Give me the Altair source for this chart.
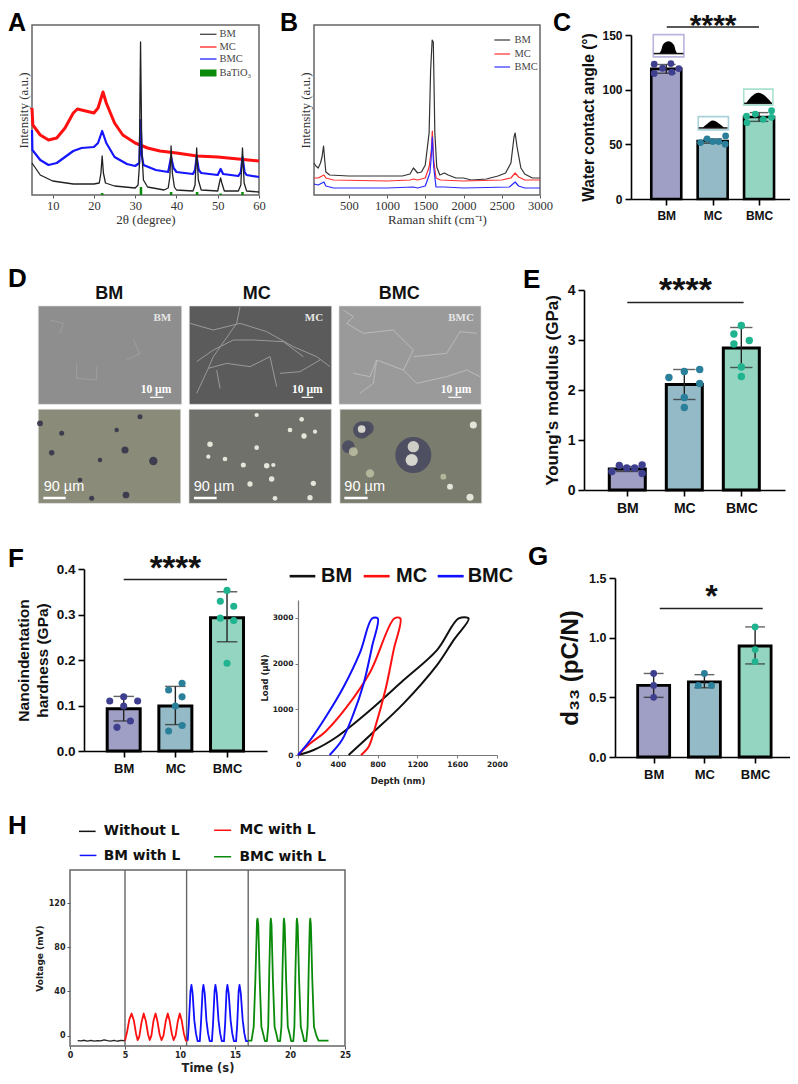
import altair as alt
import pandas as pd

SANS = "Liberation Sans"
SERIF = "Liberation Serif"
WIDE = "DejaVu Sans"
CATS = ["BM", "MC", "BMC"]
BAR_FILL = ["#9f9ec4", "#95bac7", "#93d5c0"]
DOT_FILL = ["#3f3f90", "#2a7f9a", "#1fb48f"]
CANVAS_W, CANVAS_H = 782, 1066

# ---------- panel A (XRD) ----------
A_BM_X = [5,7,10,15,20,21.3,21.7,22,22.3,22.8,25,30,30.7,31,31.3,31.6,32,33,37,38,38.4,38.7,39,39.5,40,44,44.5,44.9,45.3,46,50,50.4,50.7,51,51.6,55,55.6,56,56.4,57,60]
A_BM_Y = [32,20,14,11,11,12,22,39,22,12,9,7,10,28,153,45,15,8,5,7,18,49,22,8,5,4,10,47,15,5,4,12,17,12,4,4,10,47,12,4,3]
A_BMC_X = [5,5.1,7,9,11,13,15,17,20,21,22,23,25,28,30,31,31.3,31.6,32,35,38,38.7,39.3,40,44,44.5,44.9,45.4,46,50,50.7,51.3,55,55.6,56,56.5,57,60]
A_BMC_Y = [65,45,35,30,32,38,44,47,48,52,64,52,38,31,29,32,75,40,30,25,23,38,27,23,21,25,38,25,22,20,26,21,19,23,38,23,20,18]
A_MC_X = [5,5.2,7,9,11,13,15,16,18,20,21,22.2,23,25,27,30,33,36,40,45,50,55,60]
A_MC_Y = [87,70,60,55,57,67,82,86,84,82,87,103,92,72,60,52,47,44,42,39,38,36,34]
A_TIO_X = [22,31.4,38.7,45,50.7,56]
A_TIO_H = [2,8,3,3,1.5,3]

# ---------- panel B (Raman) ----------
B_BM_X = [45,70,100,130,150,170,185,200,250,500,1000,1200,1300,1345,1400,1450,1500,1550,1570,1590,1605,1625,1650,1690,1750,1800,1900,2000,2100,2300,2450,2550,2620,2660,2675,2700,2750,2800,2900,3000]
B_BM_Y = [32,29,27,32,38,49,35,23,20,19,19,19,21,27,22,23,30,62,125,155,153,62,28,20,22,20,17,17,15,16,19,22,32,58,62,48,27,21,17,17]
B_MC_X = [45,100,150,175,200,300,1000,1300,1345,1400,1500,1550,1580,1592,1610,1640,1700,2000,2500,2620,2675,2720,2800,3000]
B_MC_Y = [17,17,19,20,17,15,14,15,16,15,17,28,45,64,35,17,15,14,15,17,22,18,15,15]
B_BMC_X = [45,100,175,200,300,1000,1345,1400,1500,1560,1575,1592,1610,1640,1750,2000,2600,2675,2720,2800,3000]
B_BMC_Y = [11,10,13,9,7,7,8,7,9,22,35,58,28,8,8,7,8,13,9,7,7]

# ---------- bar panels ----------
C_MEAN = [119, 53, 75]
C_LO = [115, 51, 71]
C_HI = [123, 55, 79]
C_DX = [[-.26,-.26,-.08,.10,.12,.27],[-.26,-.12,0,.13,.28,.27],[-.27,-.26,-.08,.09,.27,.27]]
C_DY = [[123.3,114.8,119.6,123.9,116,119.3],[51.6,55,52.5,52.5,57.7,50.1],[75.9,69.8,77.7,72.9,80.8,74.7]]
E_MEAN = [.42, 2.11, 2.84]
E_LO = [.37, 1.81, 2.45]
E_HI = [.47, 2.41, 3.25]
E_DX = [[-.27,-.14,-.01,.13,.26,.26],[-.27,0,.27,.27,0,0],[-.13,0,-.13,.14,0,0]]
E_DY = [[.37,.49,.44,.44,.5,.33],[2.25,2.37,2.41,2.13,1.85,1.65],[3.12,3.29,2.92,2.99,2.46,2.27]]
F_MEAN = [.093, .099, .293]
F_LO = [.066, .058, .24]
F_HI = [.12, .142, .35]
F_DX = [[-.27,0,.27,0,.13,-.13],[-.13,.13,.13,0,.13,-.13],[-.13,0,.13,-.13,.13,0]]
F_DY = [[.11,.119,.11,.099,.066,.052],[.134,.149,.119,.099,.056,.044],[.329,.353,.318,.292,.287,.193]]
G_MEAN = [.6, .63, .93]
G_LO = [.5, .58, .78]
G_HI = [.7, .69, 1.09]
G_DX = [[0,0,0],[0,-.12,.14],[0,0,0]]
G_DY = [[.7,.6,.5],[.7,.6,.6],[1.09,.9,.8]]

# C insets (droplets)
DROP_X = [[-.15,-.11,-.07,.05,.17,.20,.24],[.78,.88,1.0,1.15,1.25],[1.72,1.83,1.99,2.15,2.28]]
DROP_Y = [[133,136,141.2,144.2,140.6,136,133],[65,68.6,71.7,68.6,65],[87.5,93.5,97.2,93.5,87.5]]
BOX_X = [-.28,.38,.69,1.34,1.67,2.30]
BOX_Y = [130,150.3,63.2,75.3,85.9,100.5]
BOX_C = ["#b9b5dd","#a9d1d9","#a9e1d1"]
BASE_X = [-.27,.37,.70,1.32,1.68,2.28]

# ---------- panel F right (load-depth) ----------
L_BM_X = [0,157,392,727,1062,1397,1615,1715,1564,1397,1062,727,509]
L_BM_Y = [0,109,400,983,1639,2294,2986,2986,2513,1966,1129,437,0]
L_MC_X = [0,124,275,492,727,968,1028,961,878,777,710,633]
L_MC_Y = [0,255,510,1056,1821,2986,2986,2294,1420,619,182,0]
L_BMC_X = [0,124,291,459,626,744,801,744,660,559,442,318]
L_BMC_Y = [0,328,874,1493,2258,2986,2986,2367,1566,910,328,0]

# ---------- panel H ----------
H_K_T = [.7,1,1.3,1.6,1.9,2.2,2.5,2.8,3.1,3.4,3.7,4,4.3,4.6,5]
H_K_V = [-4.5,-4.8,-4.2,-5,-4.3,-5,-4.6,-4.8,-3.8,-4.5,-4.9,-4.2,-5.1,-4.3,-4.5]
H_R_T = [5,5.2,5.4,5.6,5.8,6,6.15,6.3,6.5,6.7,6.9,7.1,7.25,7.4,7.6,7.78,7.95,8.15,8.32,8.5,8.7,8.89,9.05,9.25,9.42,9.6,9.8,9.98,10.15,10.35,10.53,10.7]
H_R_V = [-4.5,4,15,20,14,2,-4,-1,12,20,13,1,-4,0,14,20,13,1,-4,0,13,20,14,2,-4,0,13,20,14,2,-4.5,-4.5]
H_B_T = [10.7,10.8,10.95,11.04,11.15,11.3,11.45,11.6,11.8,11.9,12.05,12.13,12.25,12.4,12.55,12.7,12.9,13,13.14,13.22,13.34,13.5,13.65,13.8,14,14.1,14.23,14.31,14.43,14.6,14.75,14.9,15.1,15.2,15.33,15.41,15.53,15.7,15.85,16,16.2]
H_B_V = [-4.5,10,40,46,38,14,2,-5,-5,10,40,46,38,14,2,-5,-5,10,40,46,38,14,2,-5,-5,10,40,46,38,14,2,-5,-5,10,40,46,38,14,2,-5,-5]
H_G_T = [16.2,16.5,16.7,16.85,17,17.05,17.12,17.25,17.4,17.6,17.72,17.9,18.02,18.12,18.22,18.26,18.32,18.45,18.6,18.8,18.9,19.1,19.22,19.32,19.42,19.45,19.52,19.65,19.8,20,20.1,20.3,20.4,20.5,20.6,20.63,20.7,20.83,20.98,21.18,21.28,21.48,21.6,21.7,21.8,21.84,21.9,22.03,22.18,22.4,22.6,23.5]
H_G_V = [-4.5,-4.5,8,50,104,106,100,50,8,0,-5,-5,8,60,102,106,100,50,8,0,-5,-5,8,60,102,106,100,50,8,0,-5,-5,8,60,102,106,100,50,8,0,-5,-5,8,60,102,106,100,50,8,0,-4.5,-4.5]
H_SPLIT = [5,10.6,16.2]

# ---------- panel D (micrographs, traced in a 1500x780 picture frame) ----------
D_X = [115,545,568,995,1017,1443,115,542,567,994,1020,1445]
D_Y = [138,433,138,433,138,433,448,730,448,730,448,730]
D_FILL = ["#8e8e8e","#5b5b5b","#9a9a9a","#8a8b78","#70716b","#7a7c6d"]
D_WRINKLES = [
 [(720,140),(710,190),(640,290),(625,325),(590,400)],
 [(625,325),(680,310),(750,320),(810,290),(830,380)],
 [(590,305),(640,270),(700,240),(760,240),(850,245),(910,290)],
 [(720,190),(800,215),(880,260),(950,290),(990,320)],
 [(840,340),(900,335),(960,300)],
 [(570,190),(640,210),(720,190)],
 [(650,330),(660,385)],
 [(1040,190),(1090,220),(1180,210),(1240,270),(1210,330),(1130,300),(1110,350),(1060,340)],
 [(1240,290),(1340,280),(1380,215),(1430,220)],
 [(1210,330),(1250,370),(1340,350),(1400,330),(1440,350)],
 [(1130,300),(1120,370),(1080,400)],
 [(1030,150),(1060,170),(1040,190)],
 [(230,310),(230,355),(290,360),(290,320)],
 [(400,240),(420,280),(380,300)],
 [(150,180),(190,190),(180,220)],
]
D_W_COL = ["#a0a0a0"]*7 + ["#bdbdbd"]*5 + ["#a0a0a0"]*3
D_BLOB_X = [1240,1085,1100,1045,460,375,155,185,350,378,275,120,420,240,300,
            630,770,905,912,945,770,800,730,815,820,675,625,940,930,825,870,750,
            1240,1235,1085,1420,1410,1350,1110,1060,1330]
D_BLOB_Y = [585,510,505,560,603,570,578,520,510,705,715,490,470,660,600,
            553,563,478,528,515,465,617,615,657,615,597,590,670,713,715,510,672,
            560,600,507,495,712,680,640,575,650]
D_BLOB_S = [1300,300,200,160,70,50,30,25,20,45,25,35,25,20,20,
            30,22,22,28,18,18,30,25,30,18,22,18,28,28,22,22,28,
            130,150,60,50,50,35,70,80,35]
D_BLOB_C = ["#4a4a60"]*4 + ["#34344a"]*11 + ["#f2f2e6"]*17 + ["#dcdcd2","#e4e4da","#e4e4da","#f0f0e6","#f0f0e6","#f0f0e6","#b9bca0","#b9bca0","#b9bca0"]
D_SMALL_X = [487,942,1383]
D_SCALE_X = [468,922,1368]
D_BAR_TOP = [(450,490),(905,940),(1345,1385)]
D_BIG_X = [192,642,1094]
D_BIG_BAR = [(130,197),(582,650),(1033,1103)]
D_TITLE_X = [328,770,1198]

one = pd.DataFrame({"v": [0]})
NO_AXIS = False


def ax():
    return {"axis": None} if NO_AXIS else {}


def sx(a, b, dom):
    return alt.Scale(domain=dom, range=[a - 8, b - 8], nice=False)


def sy(top, bot, dom):
    return alt.Scale(domain=dom, range=[bot - 8, top - 8], nice=False)


def txt(frame_x, frame_y, text, xs, ys, **mk):
    d = pd.DataFrame({"x": frame_x, "y": frame_y, "t": text})
    return alt.Chart(d).mark_text(**mk).encode(
        x=alt.X("x:Q", scale=xs, **ax()),
        y=alt.Y("y:Q", scale=ys, **ax()),
        text="t:N")


def line(x, y, color, xs, ys, width, interp="linear"):
    d = pd.DataFrame({"x": x, "y": y, "o": range(len(x))})
    return alt.Chart(d).mark_line(color=color, strokeWidth=width, strokeJoin="round", interpolate=interp).encode(
        x=alt.X("x:Q", scale=xs), y=alt.Y("y:Q", scale=ys), order="o:Q")


def hseg(x1, x2, y, color, xs, ys, width):
    d = pd.DataFrame({"x": [x1], "x2": [x2], "y": [y]})
    return alt.Chart(d).mark_rule(color=color, strokeWidth=width).encode(
        x=alt.X("x:Q", scale=xs, **ax()), x2="x2:Q", y=alt.Y("y:Q", scale=ys, **ax()))


def frame(dx, dy, xs, ys):
    d = pd.DataFrame({"x": [dx[0]], "x2": [dx[1]], "y": [dy[0]], "y2": [dy[1]]})
    return alt.Chart(d).mark_rect(fillOpacity=0, stroke="#666666", strokeWidth=1.5).encode(
        x=alt.X("x:Q", scale=xs), x2="x2:Q", y=alt.Y("y:Q", scale=ys), y2="y2:Q")


def letter(s, page_x, page_base, size=26):
    return alt.Chart(one).mark_text(
        text=s, font=SANS, fontWeight="bold", fontSize=size, align="left",
        baseline="alphabetic", color="black").encode(x=alt.value(page_x - 8), y=alt.value(page_base - 8))


def serif_axis(title, orient, offset, values=None, labels=True, tpad=2, **extra):
    kw = dict(title=title, orient=orient, offset=offset, grid=False, domain=False, titleFont=SERIF, titleFontSize=13,
              titleFontWeight="normal", titleColor="#333", labelFont=SERIF, labelFontSize=12.5,
              labelColor="#333", tickColor="#555", tickSize=3, labelFlush=False, labelOverlap=False,
              titlePadding=tpad, labelPadding=1, format="d")
    kw.update(extra)
    if values is not None:
        kw["values"] = values
    if not labels:
        kw.update(labels=False, ticks=False)
    return alt.Axis(**kw)


# ----- A -----
def panel_a():
    x0, x1, yt, yb = 32, 259, 25, 195
    xs = sx(x0, x1, [5, 60])
    ys = sy(yt, yb, [0, 170])
    base = alt.Chart(pd.DataFrame({"x": [5, 60], "y": [0, 0]})).mark_point(opacity=0).encode(
        x=alt.X("x:Q", scale=xs, axis=serif_axis("2θ (degree)", "bottom", yb - 8 - CANVAS_H, [10,20,30,40,50,60])),
        y=alt.Y("y:Q", scale=ys, axis=serif_axis("Intensity (a.u.)", "left", -(x0 - 8), labels=False)))
    tio = alt.Chart(pd.DataFrame({"x": A_TIO_X, "h": A_TIO_H, "z": [0]*6})).mark_rule(
        color="#0a8a0a", strokeWidth=2.5).encode(
        x=alt.X("x:Q", scale=xs), y=alt.Y("z:Q", scale=ys), y2="h:Q")
    legend = [hseg(45.7, 49.7, 160.7, "#444", xs, ys, 1.3), hseg(45.7, 49.7, 148, "#ff2020", xs, ys, 1.3),
              hseg(45.7, 49.7, 136, "#2020ff", xs, ys, 1.3), hseg(45.7, 49.7, 122, "#0a8a0a", xs, ys, 7),
              txt([50.4]*4, [160.7,148,136,122], ["BM","MC","BMC","BaTiO₃"], xs, ys,
                  font=SERIF, fontSize=10.5, color="#444", align="left", baseline="middle")]
    return alt.layer(base, frame([5, 60], [0, 170], xs, ys), line(A_MC_X, A_MC_Y, "#ff1010", xs, ys, 3),
                     line(A_BMC_X, A_BMC_Y, "#1515ff", xs, ys, 2.2),
                     line(A_BM_X, A_BM_Y, "#222", xs, ys, 1.3), tio, *legend,
                     letter("A", 8, 31, 25))


# ----- B -----
def panel_b():
    x0, x1, yt, yb = 314, 540, 25, 195
    xs = sx(x0, x1, [45, 3000])
    ys = sy(yt, yb, [0, 170])
    base = alt.Chart(pd.DataFrame({"x": [45, 3000], "y": [0, 0]})).mark_point(opacity=0).encode(
        x=alt.X("x:Q", scale=xs, axis=serif_axis("Raman shift (cm⁻¹)", "bottom", yb - 8 - CANVAS_H,
                                                 [500,1000,1500,2000,2500,3000], titleX=429)),
        y=alt.Y("y:Q", scale=ys, axis=serif_axis("Intensity (a.u.)", "left", -(x0 - 8), labels=False)))
    legend = [hseg(2404, 2609, 155, "#444", xs, ys, 1.3), hseg(2404, 2609, 141, "#ff4040", xs, ys, 1.3),
              hseg(2404, 2609, 128, "#4040ff", xs, ys, 1.3),
              txt([2665]*3, [155,141,128], ["BM","MC","BMC"], xs, ys, font=SERIF, fontSize=10.5,
                  color="#444", align="left", baseline="middle")]
    return alt.layer(base, frame([45, 3000], [0, 170], xs, ys), line(B_BM_X, B_BM_Y, "#333", xs, ys, 1.2),
                     line(B_MC_X, B_MC_Y, "#ff3030", xs, ys, 1.2),
                     line(B_BMC_X, B_BMC_Y, "#2a2aff", xs, ys, 1.2), *legend,
                     letter("B", 280, 31, 25))


# ----- bar helper -----
def bar_panel(x0, x1, ytop, ybot, ymax, ticks, centers, mean, lo, hi, dx, dy, barw, ylabel,
              sig, star, fmt, extras=None, tsize=13, lab=15, dot=46, sw=2.6, stars="****", ssize=30,
              tpad=6, let=None, xsize=13, lh=19):
    step = (centers[2] - centers[0]) / 2
    xs = sx(x0, x1, [(x0 - centers[0]) / step, (x1 - centers[0]) / step])
    ys = sy(ytop, ybot, [0, ymax])
    d = pd.DataFrame({"i": [0, 1, 2], "m": mean, "lo": lo, "hi": hi, "f": BAR_FILL})
    xaxis = alt.Axis(title=None, orient="bottom", offset=ybot - 8 - CANVAS_H, values=[0, 1, 2],
                     labelExpr="['BM','MC','BMC'][datum.value]",
                     grid=False, domainColor="black", domainWidth=1.6, tickColor="black", tickWidth=1.6,
                     tickSize=6, labelFont=SANS, labelFontWeight="bold", labelFontSize=xsize,
                     labelColor="#111", labelPadding=5, labelOverlap=False, labelFlush=False)
    yaxis = alt.Axis(title=ylabel, orient="left", offset=-(x0 - 8), values=ticks, format=fmt, grid=False,
                     domainColor="black",
                     domainWidth=1.6, tickColor="black", tickWidth=1.6, tickSize=6, labelFont=SANS,
                     labelFontWeight="bold", labelFontSize=tsize, labelColor="#111", labelPadding=3,
                     titleFont=SANS, titleFontWeight="bold", titleFontSize=lab, titleColor="#111",
                     titlePadding=tpad, titleLineHeight=lh, labelOverlap=False, labelFlush=False)
    bars = alt.Chart(d).mark_bar(size=barw, stroke="black", strokeWidth=sw).encode(
        x=alt.X("i:Q", scale=xs, axis=xaxis), y=alt.Y("m:Q", scale=ys, axis=yaxis, stack=None),
        color=alt.Color("f:N", scale=None))
    ex = alt.X("i:Q", scale=xs)
    err = alt.Chart(d).mark_rule(color="#222", strokeWidth=1.4).encode(
        x=ex, y=alt.Y("lo:Q", scale=ys), y2="hi:Q")
    cap1 = alt.Chart(d).mark_tick(color="#222", thickness=1.4, size=barw * 0.62, orient="horizontal").encode(
        x=ex, y=alt.Y("lo:Q", scale=ys))
    cap2 = alt.Chart(d).mark_tick(color="#222", thickness=1.4, size=barw * 0.62, orient="horizontal").encode(
        x=ex, y=alt.Y("hi:Q", scale=ys))
    px, py, pc = [], [], []
    for i in range(3):
        for a, b in zip(dx[i], dy[i]):
            px.append(i + a); py.append(b); pc.append(DOT_FILL[i])
    dots = alt.Chart(pd.DataFrame({"x": px, "y": py, "c": pc})).mark_circle(size=dot, opacity=1).encode(
        x=alt.X("x:Q", scale=xs), y=alt.Y("y:Q", scale=ys),
        color=alt.Color("c:N", scale=None))
    sigl = hseg(sig[0], sig[1], sig[2], "#222", xs, ys, 1.6)
    st = txt([star[0]], [star[1]], [stars], xs, ys, font=SANS, fontWeight="bold", fontSize=ssize,
             align="center", baseline="alphabetic", dy=ssize * .43, color="#111")
    layers = [bars, err, cap1, cap2, dots, sigl, st]
    if extras:
        layers += extras(xs, ys)
    if let:
        layers.append(letter(*let))
    return alt.layer(*layers)


def c_extras(xs, ys):
    out = []
    bx = pd.DataFrame({"x": BOX_X[0::2], "x2": BOX_X[1::2], "y": BOX_Y[0::2], "y2": BOX_Y[1::2], "c": BOX_C})
    out.append(alt.Chart(bx).mark_rect(fill="white", strokeWidth=1.6).encode(
        x=alt.X("x:Q", scale=xs), x2="x2:Q", y=alt.Y("y:Q", scale=ys), y2="y2:Q",
        stroke=alt.Color("c:N", scale=None)))
    for i in range(3):
        d = pd.DataFrame({"x": DROP_X[i], "y": DROP_Y[i], "b": [DROP_Y[i][0]] * len(DROP_X[i])})
        out.append(alt.Chart(d).mark_area(color="black", interpolate="monotone").encode(
            x=alt.X("x:Q", scale=xs), y=alt.Y("y:Q", scale=ys, stack=None), y2="b:Q"))
        out.append(hseg(BASE_X[2*i], BASE_X[2*i+1], DROP_Y[i][0], "#111", xs, ys, 1.5))
    return out


def panel_d():
    global NO_AXIS
    NO_AXIS = True
    xs = sx(9, 500, [27, 1500])
    ys = sy(260, 520, [780, 0])
    rect = pd.DataFrame({"x": D_X[0::2], "x2": D_X[1::2], "y": D_Y[0::2], "y2": D_Y[1::2], "f": D_FILL})
    r = alt.Chart(rect).mark_rect(stroke="#dddddd", strokeWidth=0.6).encode(
        x=alt.X("x:Q", scale=xs, axis=None), x2="x2:Q", y=alt.Y("y:Q", scale=ys, axis=None), y2="y2:Q",
        color=alt.Color("f:N", scale=None))
    layers = [r]
    rows = []
    for i, poly in enumerate(D_WRINKLES):
        for j, (a, b) in enumerate(poly):
            rows.append({"x": a, "y": b, "id": i, "o": j, "c": D_W_COL[i]})
    layers.append(alt.Chart(pd.DataFrame(rows)).mark_line(strokeWidth=0.9).encode(
        x=alt.X("x:Q", scale=xs, axis=None), y=alt.Y("y:Q", scale=ys, axis=None),
        detail="id:N", order="o:Q", color=alt.Color("c:N", scale=None)))
    blobs = pd.DataFrame({"x": D_BLOB_X, "y": D_BLOB_Y, "s": D_BLOB_S, "c": D_BLOB_C, "o": range(len(D_BLOB_X))})
    layers.append(alt.Chart(blobs).mark_circle(opacity=.9).encode(
        x=alt.X("x:Q", scale=xs, axis=None), y=alt.Y("y:Q", scale=ys, axis=None),
        size=alt.Size("s:Q", scale=None), color=alt.Color("c:N", scale=None), order="o:Q"))
    for t in D_BAR_TOP:
        layers.append(hseg(t[0], t[1], 412, "white", xs, ys, 1.2))
    for t in D_BIG_BAR:
        layers.append(hseg(t[0], t[1], 714, "white", xs, ys, 2.5))
    layers.append(txt(D_SMALL_X, [175]*3, CATS, xs, ys, font=SERIF, fontWeight="bold", fontSize=11,
                      color="#e6e6e6", align="center", baseline="middle"))
    layers.append(txt(D_SCALE_X, [390]*3, ["10 µm"]*3, xs, ys, font=SERIF, fontWeight="bold", fontSize=11.5,
                      color="white", align="center", baseline="middle"))
    layers.append(txt(D_BIG_X, [680]*3, ["90 µm"]*3, xs, ys, font=SANS, fontSize=14.5,
                      color="white", align="center", baseline="middle"))
    layers.append(txt(D_TITLE_X, [102]*3, CATS, xs, ys, font=SANS, fontWeight="bold", fontSize=18,
                      color="#111", align="center", baseline="middle"))
    layers.append(letter("D", 8, 287))
    NO_AXIS = False
    return alt.layer(*layers)


def panel_f2():
    x0, x1, yt, yb = 298, 497, 600, 755
    xs = sx(x0, x1, [0, 2000])
    ys = sy(yt, yb, [0, 3390])
    common = dict(grid=False, domainColor="#777", domainWidth=1.2, tickColor="#777", tickSize=3,
                  labelFont=WIDE, labelFontWeight="bold", labelFontSize=7.5, labelColor="#222",
                  titleFont=WIDE, titleFontWeight="bold", titleColor="#222", titleFontSize=8.5,
                  labelOverlap=False, labelFlush=False, format="d")
    base = alt.Chart(pd.DataFrame({"x": [0], "y": [0]})).mark_point(opacity=0).encode(
        x=alt.X("x:Q", scale=xs, axis=alt.Axis(title="Depth (nm)", orient="bottom", offset=yb - 8 - CANVAS_H,
                                               values=[0,400,800,1200,1600,2000], titlePadding=9, **common)),
        y=alt.Y("y:Q", scale=ys, axis=alt.Axis(title="Load (µN)", orient="left", offset=-(x0 - 8),
                                               values=[0,1000,2000,3000], titlePadding=3, **common)))
    lg = [hseg(-84, 174, 3911, "#111", xs, ys, 2.6), hseg(660, 921, 3911, "#ff1010", xs, ys, 2.6),
          hseg(1404, 1665, 3911, "#1010ff", xs, ys, 2.6),
          txt([231, 985, 1705], [3911]*3, CATS, xs, ys, font=SANS, fontWeight="bold", fontSize=20,
              color="#111", align="left", baseline="middle")]
    cr = "catmull-rom"
    return alt.layer(base, line(L_BM_X, L_BM_Y, "#111", xs, ys, 2, cr),
                     line(L_MC_X, L_MC_Y, "#ff1010", xs, ys, 2, cr),
                     line(L_BMC_X, L_BMC_Y, "#1010ff", xs, ys, 2, cr), *lg)


def panel_h():
    x0, x1, yt, yb = 70, 345, 870, 1046
    xs = sx(x0, x1, [0, 25])
    ys = sy(yt, yb, [-9.4, 150])
    common = dict(grid=False, domain=False, tickColor="#555", tickSize=3, labelFont=WIDE, labelFontWeight="bold",
                  labelFontSize=8, labelColor="#222", titleFont=WIDE, titleFontWeight="bold",
                  titleColor="#222", labelOverlap=False, labelFlush=False)
    base = alt.Chart(pd.DataFrame({"x": [0], "y": [0]})).mark_point(opacity=0).encode(
        x=alt.X("x:Q", scale=xs, axis=alt.Axis(title="Time (s)", orient="bottom", offset=yb - 8 - CANVAS_H,
                                               values=[0,5,10,15,20,25], titleFontSize=11.5, titlePadding=3, **common)),
        y=alt.Y("y:Q", scale=ys, axis=alt.Axis(title="Voltage (mV)", orient="left", offset=-(x0 - 8),
                                               values=[0,40,80,120], titleFontSize=9, titlePadding=4, **common)))
    vr = alt.Chart(pd.DataFrame({"x": H_SPLIT, "a": [-9.4]*3, "b": [150]*3})).mark_rule(color="#666", strokeWidth=1.4).encode(
        x=alt.X("x:Q", scale=xs), y=alt.Y("a:Q", scale=ys), y2="b:Q")
    lg = [hseg(.82, 2.33, 185, "#111", xs, ys, 1.5), hseg(13.1, 14.65, 186, "#ff1010", xs, ys, 1.5),
          hseg(.88, 2.4, 163.2, "#1010ff", xs, ys, 1.5), hseg(13.1, 14.65, 162, "#0a8a0a", xs, ys, 1.5),
          txt([3.06, 15.4, 3.06, 15.4], [185, 186, 163, 162], ["Without L", "MC with L", "BM with L", "BMC with L"],
              xs, ys, font=WIDE, fontWeight="bold", fontSize=13.8, color="#111", align="left", baseline="middle")]
    return alt.layer(base, frame([0, 25], [-9.4, 150], xs, ys), vr, line(H_K_T, H_K_V, "#222", xs, ys, 1.3),
                     line(H_R_T, H_R_V, "#ff1010", xs, ys, 1.8),
                     line(H_B_T, H_B_V, "#1010ff", xs, ys, 1.8), line(H_G_T, H_G_V, "#0a8a0a", xs, ys, 1.8), *lg,
                     letter("H", 8, 834))


pC = bar_panel(631, 790, 35, 199, 150, [0,50,100,150], [663.3,712.7,762.3], C_MEAN, C_LO, C_HI, C_DX, C_DY, 30,
               "Water contact angle (°)", (.01, 2, 157.3), (1.01, 161.7), "d", extras=c_extras, lab=15.6, tsize=12,
               tpad=5, let=("C", 553, 31, 25), ssize=30, xsize=12)
pE = bar_panel(584, 785, 290, 490, 4, [0,1,2,3,4], [624.3,684.3,744.3], E_MEAN, E_LO, E_HI, E_DX, E_DY, 36,
               "Young's modulus (GPa)", (0, 2.04, 3.75), (1.02, 4.08), "d", dot=55, sw=3, ssize=34, let=("E", 523, 288),
               lab=17, tsize=14, xsize=14)
pF = bar_panel(84, 267, 569, 751, .4, [0,.1,.2,.3,.4], [120.7,175.3,230], F_MEAN, F_LO, F_HI, F_DX, F_DY, 33,
               ["Nanoindentation", "hardness (GPa)"], (0, 2, .377), (1, .41), ".1f", dot=50, sw=3, ssize=33, let=("F", 8, 567),
               lab=15.5, tsize=13.5)
pG = bar_panel(615, 790, 578, 757, 1.5, [0,.5,1,1.5], [650.7,704.3,758.3], G_MEAN, G_LO, G_HI, G_DX, G_DY, 32,
               "d₃₃ (pC/N)", (.12, 2.15, 1.244), (1.14, 1.375), ".1f", dot=46, sw=2.8, stars="*", ssize=32, lab=24, tsize=12.5,
               let=("G", 528, 565))

panels = [panel_a(), panel_b(), pC, panel_d(), pE, pF, panel_f2(), pG, panel_h()]

chart = alt.layer(*panels).resolve_scale(x="independent", y="independent").properties(
    width=CANVAS_W, height=CANVAS_H, padding=0,
    autosize=alt.AutoSizeParams(type="none", contains="padding")
).configure_view(stroke=None)

chart.save("out.html", embed_options={"renderer": "svg", "actions": False})
